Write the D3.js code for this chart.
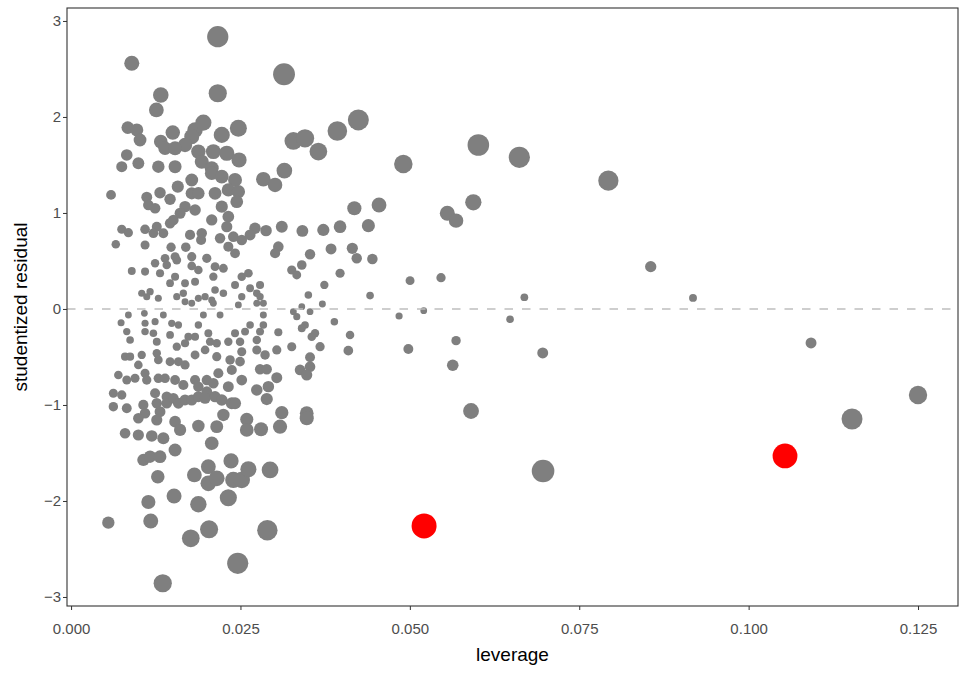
<!DOCTYPE html>
<html>
<head>
<meta charset="utf-8">
<script src="https://cdn.jsdelivr.net/npm/d3@7"></script>
<style>
  body { margin: 0; background: #fff; }
  svg { display: block; font-family: "Liberation Sans", Arial, sans-serif; }
  .tick text { fill: #4d4d4d; font-size: 15px; }
  .tick line { stroke: #333; }
</style>
</head>
<body>
<svg width="969" height="680"></svg>
<script>
// leverage (hat values)
const leverage = [
  0.02165,0.00896,0.01324,0.02165,0.01259,0.00837,0.00970,0.01018,0.01501,0.01324,
  0.01387,0.01830,0.01953,0.01781,0.01682,0.01535,0.01879,0.01929,0.02224,0.02469,
  0.02100,0.02298,0.02479,0.00822,0.00748,0.00993,0.01288,0.01535,0.02076,0.00590,
  0.01117,0.01141,0.01240,0.01313,0.01461,0.01575,0.01781,0.01781,0.01879,0.01682,
  0.01830,0.01609,0.01510,0.01461,0.02076,0.02224,0.02420,0.02125,0.02321,0.02469,
  0.02224,0.02321,0.02076,0.02298,0.00748,0.00846,0.01092,0.01265,0.01362,0.01215,
  0.00660,0.01092,0.01476,0.01693,0.01756,0.01929,0.01919,0.02199,0.02395,0.02519,
  0.02321,0.02420,0.01535,0.01387,0.01781,0.02003,0.00896,0.01092,0.01240,0.01412,
  0.01313,0.01560,0.01781,0.01879,0.02125,0.02248,0.02100,0.02519,0.01535,0.01682,
  0.01830,0.01461,0.02420,0.01043,0.01166,0.01288,0.01117,0.01560,0.01682,0.01781,
  0.01879,0.01978,0.02076,0.02125,0.02248,0.02519,0.01657,0.02100,0.02469,0.00846,
  0.01082,0.01362,0.01486,0.01584,0.00738,0.01092,0.01240,0.01879,0.01953,0.02199,
  0.00822,0.00871,0.01092,0.01215,0.01265,0.01461,0.01560,0.01731,0.01830,0.02026,
  0.02051,0.01682,0.02150,0.02321,0.02420,0.02519,0.00797,0.00871,0.01043,0.00993,
  0.01265,0.01288,0.01461,0.01584,0.01682,0.01830,0.01978,0.02150,0.02347,0.02372,
  0.00698,0.00822,0.00944,0.01092,0.01117,0.01288,0.01387,0.01535,0.01657,0.01830,
  0.01879,0.02003,0.02174,0.02100,0.02321,0.02519,0.00624,0.00748,0.00624,0.00822,
  0.01067,0.01092,0.00993,0.01240,0.01265,0.01313,0.01265,0.01412,0.01412,0.01510,
  0.01584,0.01682,0.01781,0.01879,0.02003,0.01978,0.02125,0.02224,0.02372,0.02248,
  0.02150,0.01879,0.01535,0.01609,0.00797,0.00993,0.01191,0.01362,0.02076,0.00550,
  0.01067,0.01166,0.01313,0.01535,0.01280,0.01520,0.01141,0.01176,0.01879,0.01767,
  0.02037,0.01820,0.02026,0.02026,0.02150,0.02361,0.02395,0.02519,0.02321,0.02460,
  0.01353,0.03143,0.03281,0.03453,0.03650,0.03930,0.04240,0.03148,0.02838,0.03011,
  0.02445,0.04181,0.04545,0.03110,0.02878,0.02715,0.02642,0.03414,0.03723,0.03970,
  0.04388,0.03059,0.03011,0.03837,0.04151,0.04216,0.04447,0.03527,0.03405,0.03257,
  0.03331,0.03970,0.03738,0.03502,0.03709,0.04413,0.02617,0.02642,0.02789,0.02741,
  0.02789,0.02838,0.03405,0.02741,0.03281,0.03527,0.03331,0.02838,0.03886,0.03453,
  0.03405,0.02838,0.02642,0.02568,0.02789,0.03059,0.03601,0.03552,0.04117,0.02494,
  0.02741,0.03257,0.03675,0.04092,0.03036,0.02741,0.02863,0.03527,0.02494,0.03527,
  0.03380,0.03478,0.02789,0.02888,0.03036,0.02912,0.02741,0.02888,0.02420,0.03110,
  0.03478,0.03478,0.02593,0.03084,0.02593,0.02804,0.02617,0.02937,0.02897,0.04904,
  0.06011,0.06616,0.07930,0.05553,0.05682,0.05937,0.08555,0.05003,0.05460,0.06690,
  0.04841,0.05205,0.06479,0.04978,0.05682,0.05633,0.06961,0.09179,0.10921,0.12500,
  0.11526,0.05903,0.06966
];

// studentized residuals, same order
const residual = [
  2.836,2.559,2.229,2.247,2.073,1.889,1.865,1.760,1.837,1.743,
  1.674,1.865,1.941,1.795,1.708,1.674,1.639,1.534,1.813,1.882,
  1.639,1.622,1.552,1.604,1.482,1.518,1.482,1.482,1.466,1.188,
  1.164,1.083,1.049,1.211,1.143,1.274,1.344,1.205,1.205,1.066,
  1.031,0.997,0.927,0.893,1.414,1.378,1.344,1.205,1.240,1.222,
  1.066,0.961,0.927,0.857,0.830,0.795,0.830,0.857,0.789,0.789,
  0.674,0.667,0.643,0.643,0.771,0.789,0.719,0.736,0.753,0.719,
  0.649,0.580,0.545,0.528,0.545,0.528,0.396,0.389,0.476,0.458,
  0.372,0.510,0.448,0.406,0.441,0.424,0.336,0.336,0.336,0.268,
  0.284,0.268,0.250,0.164,0.180,0.111,0.128,0.128,0.076,0.059,
  0.111,0.128,0.094,0.198,0.164,0.128,0.164,0.059,0.042,-0.063,
  -0.045,-0.063,-0.149,-0.167,-0.143,-0.149,-0.132,-0.167,-0.063,-0.063,
  -0.236,-0.323,-0.236,-0.253,-0.341,-0.271,-0.393,-0.289,-0.289,-0.253,
  -0.341,-0.357,-0.357,-0.341,-0.253,-0.445,-0.497,-0.497,-0.479,-0.583,
  -0.461,-0.531,-0.549,-0.549,-0.583,-0.479,-0.427,-0.497,-0.531,-0.635,
  -0.688,-0.740,-0.722,-0.670,-0.740,-0.722,-0.722,-0.740,-0.792,-0.740,
  -0.809,-0.740,-0.670,-0.774,-0.809,-0.740,-0.878,-0.896,-1.018,-1.034,
  -1.000,-1.086,-1.139,-0.878,-0.982,-1.070,-1.156,-0.914,-0.982,-0.930,
  -0.982,-0.948,-0.948,-0.914,-0.862,-0.930,-0.914,-0.948,-0.982,-1.104,
  -1.226,-1.219,-1.174,-1.260,-1.295,-1.313,-1.323,-1.347,-1.399,-2.226,
  -1.573,-1.539,-1.539,-1.469,-1.747,-1.948,-2.010,-2.208,-2.034,-2.389,
  -2.295,-1.729,-1.643,-1.816,-1.764,-1.583,-1.781,-1.781,-1.966,-2.649,
  -2.857,2.445,1.750,1.778,1.639,1.854,1.969,1.441,1.351,1.292,
  1.118,1.049,1.083,0.857,0.816,0.841,0.771,0.813,0.823,0.857,
  0.868,0.649,0.580,0.625,0.632,0.528,0.521,0.570,0.458,0.406,
  0.354,0.372,0.250,0.146,0.052,0.139,0.372,0.216,0.250,0.164,
  0.128,0.059,0.024,0.059,-0.028,-0.028,-0.080,-0.063,-0.132,-0.167,
  -0.201,-0.167,-0.167,-0.236,-0.236,-0.243,-0.253,-0.289,-0.271,-0.341,
  -0.323,-0.393,-0.393,-0.434,-0.427,-0.427,-0.479,-0.503,-0.549,-0.601,
  -0.635,-0.688,-0.628,-0.628,-0.716,-0.809,-0.844,-0.938,-0.982,-1.080,
  -1.086,-1.139,-1.149,-1.226,-1.260,-1.253,-1.670,-1.677,-2.305,1.510,
  1.708,1.580,1.336,0.997,0.920,1.111,0.441,0.295,0.326,0.122,
  -0.073,-0.018,-0.107,-0.417,-0.330,-0.586,-0.458,0.115,-0.354,-0.896,
  -1.146,-1.063,-1.688
];

// the two most influential observations, drawn in red
const flaggedLeverage = [0.05210, 0.10537];
const flaggedResidual = [-2.260, -1.531];

const xTicks = [0, 0.025, 0.05, 0.075, 0.1, 0.125];
const yTicks = [-3, -2, -1, 0, 1, 2, 3];

const W = 969, H = 680;
const margin = {top: 8, right: 11, bottom: 74, left: 67};

const svg = d3.select('svg');

const x = d3.scaleLinear()
  .domain([-0.0006, 0.1309])
  .range([margin.left, W - margin.right]);
const y = d3.scaleLinear()
  .domain([-3.094, 3.135])
  .range([H - margin.bottom, margin.top]);

const pts = leverage.map((h, i) => ({h: h, r: residual[i], red: false}));
flaggedLeverage.forEach((h, i) => pts.push({h: h, r: flaggedResidual[i], red: true}));
// influence (Cook's distance style) drives the point size
pts.forEach(d => { d.cook = d.r * d.r * d.h / (1 - d.h); });

const size = d3.scaleSqrt()
  .domain([0, d3.max(pts, d => d.cook)])
  .range([3.3, 12.5]);

const plot = svg.append('g');

plot.selectAll('circle.pt')
  .data(pts.filter(d => !d.red))
  .enter()
  .append('circle')
    .attr('class', 'pt')
    .attr('cx', d => x(d.h))
    .attr('cy', d => y(d.r))
    .attr('r', d => size(d.cook))
    .attr('fill', '#7f7f7f');

plot.selectAll('circle.red')
  .data(pts.filter(d => d.red))
  .enter()
  .append('circle')
    .attr('class', 'red')
    .attr('cx', d => x(d.h))
    .attr('cy', d => y(d.r))
    .attr('r', d => size(d.cook))
    .attr('fill', '#ff0000');

// reference line at zero
plot.append('line')
  .attr('x1', margin.left)
  .attr('x2', W - margin.right)
  .attr('y1', y(0))
  .attr('y2', y(0))
  .attr('stroke', '#bebebe')
  .attr('stroke-width', 1.6)
  .attr('stroke-dasharray', '8.5,9');

// panel border
svg.append('rect')
  .attr('x', margin.left)
  .attr('y', margin.top)
  .attr('width', W - margin.left - margin.right)
  .attr('height', H - margin.top - margin.bottom)
  .attr('fill', 'none')
  .attr('stroke', '#333')
  .attr('stroke-width', 1.1);

const xAxis = svg.append('g')
  .attr('transform', `translate(0,${H - margin.bottom})`)
  .call(d3.axisBottom(x).tickValues(xTicks).tickFormat(d3.format('.3f')).tickSizeOuter(0).tickSize(4).tickPadding(13));
const yAxis = svg.append('g')
  .attr('transform', `translate(${margin.left},0)`)
  .call(d3.axisLeft(y).tickValues(yTicks).tickFormat(d => d < 0 ? '\u2212' + Math.abs(d) : d).tickSizeOuter(0).tickSize(4).tickPadding(2));
[xAxis, yAxis].forEach(g => {
  g.select('.domain').remove();
  g.selectAll('.tick text').style('font-family', '"Liberation Sans", Arial, sans-serif');
});

svg.append('text')
  .attr('x', (margin.left + W - margin.right) / 2)
  .attr('y', 661)
  .attr('text-anchor', 'middle')
  .attr('font-size', 19)
  .attr('fill', '#000')
  .text('leverage');

svg.append('text')
  .attr('transform', `translate(27,${(margin.top + H - margin.bottom) / 2}) rotate(-90)`)
  .attr('text-anchor', 'middle')
  .attr('font-size', 19)
  .attr('fill', '#000')
  .text('studentized residual');
</script>
</body>
</html>
